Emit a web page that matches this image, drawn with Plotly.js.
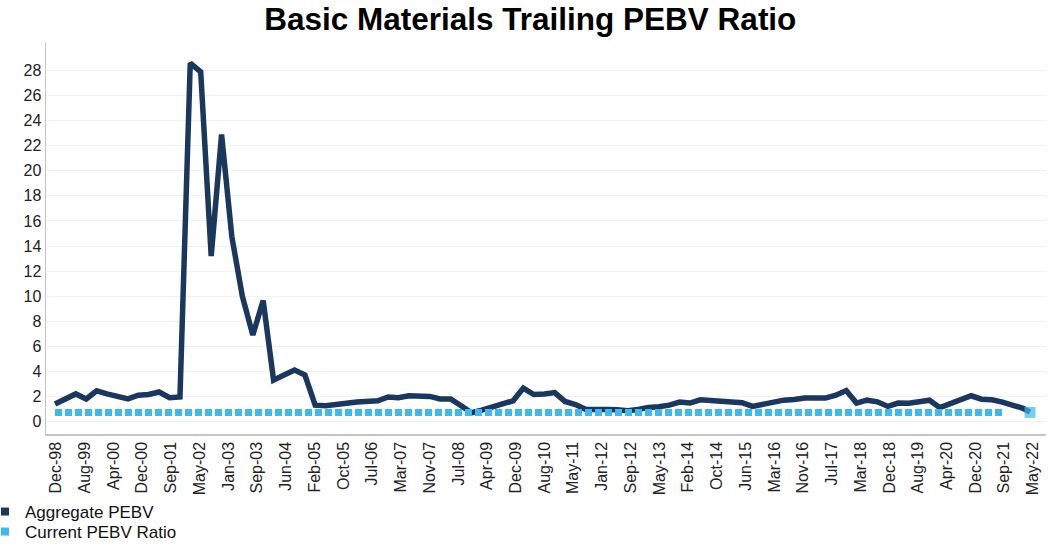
<!DOCTYPE html>
<html><head><meta charset="utf-8">
<script src="https://cdn.plot.ly/plotly-3.0.1.min.js"></script>
<style>html,body{margin:0;padding:0;background:#fff}#chart{width:1048px;height:544px}</style>
</head><body><div id="chart"></div>
<script>
const dates = [
"1998-12",
"1999-03","1999-06","1999-09","1999-12",
"2000-03","2000-06","2000-09","2000-12",
"2001-03","2001-06","2001-09","2001-12",
"2002-03","2002-06","2002-09","2002-12",
"2003-03","2003-06","2003-09","2003-12",
"2004-03","2004-06","2004-09","2004-12",
"2005-03","2005-06","2005-09","2005-12",
"2006-03","2006-06","2006-09","2006-12",
"2007-03","2007-06","2007-09","2007-12",
"2008-03","2008-06","2008-09","2008-12",
"2009-03","2009-06","2009-09","2009-12",
"2010-03","2010-06","2010-09","2010-12",
"2011-03","2011-06","2011-09","2011-12",
"2012-03","2012-06","2012-09","2012-12",
"2013-03","2013-06","2013-09","2013-12",
"2014-03","2014-06","2014-09","2014-12",
"2015-03","2015-06","2015-09","2015-12",
"2016-03","2016-06","2016-09","2016-12",
"2017-03","2017-06","2017-09","2017-12",
"2018-03","2018-06","2018-09","2018-12",
"2019-03","2019-06","2019-09","2019-12",
"2020-03","2020-06","2020-09","2020-12",
"2021-03","2021-06","2021-09","2021-12",
"2022-03","2022-05"
];

const aggregatePEBV = [
1.4,
1.8, 2.2, 1.8, 2.45,
2.2, 2.0, 1.8, 2.1,
2.15, 2.35, 1.9, 1.95,
28.6, 27.9, 13.2, 22.9,
14.75, 10.0, 6.9, 9.65,
3.3, 3.7, 4.1, 3.7,
1.3, 1.25, 1.3, 1.45,
1.55, 1.6, 1.65, 1.95,
1.9, 2.05, 2.07, 2.0,
1.8, 1.8, 1.25, 0.7,
0.9, 1.15, 1.4, 1.65,
2.66, 2.15, 2.2, 2.3,
1.6, 1.35, 0.95, 1.0,
0.95, 0.93, 0.85, 0.95,
1.12, 1.18, 1.3, 1.55,
1.47, 1.73, 1.65, 1.57,
1.5, 1.5, 1.2, 1.4,
1.55, 1.7, 1.75, 1.87,
1.87, 1.87, 2.1, 2.47,
1.47, 1.7, 1.57, 1.2,
1.47, 1.45, 1.57, 1.7,
1.1, 1.4, 1.8, 2.05,
1.78, 1.73, 1.55, 1.3,
1.05, 0.75
];

const currentPEBV = [
0.72,
0.72, 0.72, 0.72, 0.72,
0.72, 0.72, 0.72, 0.72,
0.72, 0.72, 0.72, 0.72,
0.72, 0.72, 0.72, 0.72,
0.72, 0.72, 0.72, 0.72,
0.72, 0.72, 0.72, 0.72,
0.72, 0.72, 0.72, 0.72,
0.72, 0.72, 0.72, 0.72,
0.72, 0.72, 0.72, 0.72,
0.72, 0.72, 0.72, 0.72,
0.72, 0.72, 0.72, 0.72,
0.72, 0.72, 0.72, 0.72,
0.72, 0.72, 0.72, 0.72,
0.72, 0.72, 0.72, 0.72,
0.72, 0.72, 0.72, 0.72,
0.72, 0.72, 0.72, 0.72,
0.72, 0.72, 0.72, 0.72,
0.72, 0.72, 0.72, 0.72,
0.72, 0.72, 0.72, 0.72,
0.72, 0.72, 0.72, 0.72,
0.72, 0.72, 0.72, 0.72,
0.72, 0.72, 0.72, 0.72,
0.72, 0.72, 0.72, null,
null, 0.72
];

const tickLabels = [
"Dec-98","Aug-99","Apr-00","Dec-00","Sep-01","May-02","Jan-03","Sep-03","Jun-04",
"Feb-05","Oct-05","Jul-06","Mar-07","Nov-07","Jul-08","Apr-09","Dec-09","Aug-10",
"May-11","Jan-12","Sep-12","May-13","Feb-14","Oct-14","Jun-15","Mar-16","Nov-16",
"Jul-17","Mar-18","Dec-18","Aug-19","Apr-20","Dec-20","Sep-21","May-22"
];

const yTicks = [0, 2, 4, 6, 8, 10, 12, 14, 16, 18, 20, 22, 24, 26, 28];

const seriesNames = ["Aggregate PEBV", "Current PEBV Ratio"];
const NAVY = "#1c375e";
const LIGHT = "#41b8ea";
const FONT = "Liberation Sans, Arial, sans-serif";

// evenly spaced label positions (Excel-style date axis major unit)
const tStart = Date.UTC(1998, 11, 10);
const tEnd = Date.UTC(2022, 4, 27);
const tickVals = tickLabels.map((_, k) => tStart + k * (tEnd - tStart) / (tickLabels.length - 1));

const markerSizes = currentPEBV.map((v, i) => (i === currentPEBV.length - 1 ? 11 : 0));

const traces = [
  {
    x: dates, y: aggregatePEBV, type: "scatter", mode: "lines",
    line: {color: NAVY, width: 5.5}, showlegend: false, hoverinfo: "skip"
  },
  {
    x: dates, y: currentPEBV, type: "scatter", mode: "lines+markers",
    line: {color: LIGHT, width: 7, dash: "7px,3px"},
    marker: {color: LIGHT, symbol: "square", size: markerSizes, line: {width: 0}},
    connectgaps: false, showlegend: false, hoverinfo: "skip"
  },
  {
    x: [null], y: [null], type: "scatter", mode: "markers", name: seriesNames[0],
    marker: {color: NAVY, symbol: "square", size: 8}, legend: "legend"
  },
  {
    x: [null], y: [null], type: "scatter", mode: "markers", name: seriesNames[1],
    marker: {color: LIGHT, symbol: "square", size: 8}, legend: "legend2"
  }
];

const legendCommon = {
  xref: "container", yref: "container", x: 0, xanchor: "left", yanchor: "middle",
  orientation: "h", indentation: -15,
  font: {family: FONT, size: 17, color: "#111"}, bgcolor: "rgba(0,0,0,0)", borderwidth: 0
};

const layout = {
  width: 1048, height: 544,
  margin: {l: 46, r: 2, t: 43, b: 110},
  paper_bgcolor: "#fff", plot_bgcolor: "#fff",
  title: {
    text: "Basic Materials Trailing PEBV Ratio",
    font: {family: FONT, size: 31.5, color: "#000", weight: 700},
    x: 0.506, xanchor: "center", xref: "container", y: 0.965, yanchor: "middle", yref: "container"
  },
  xaxis: {
    type: "date",
    range: ["1998-09-13", "2022-09-18"],
    tickmode: "array", tickvals: tickVals, ticktext: tickLabels,
    tickangle: -90, ticks: "", showgrid: false, zeroline: false,
    showline: true, linecolor: "#c4c4c4", linewidth: 1.5,
    tickfont: {family: FONT, size: 16, color: "#222"},
    automargin: false, fixedrange: true
  },
  yaxis: {
    range: [-1, 30.2],
    tickmode: "array", tickvals: yTicks, ticktext: yTicks.map(String),
    ticks: "", showgrid: true, gridcolor: "#f1f1f1", gridwidth: 1, zeroline: false,
    showline: true, linecolor: "#c4c4c4", linewidth: 1.5,
    tickfont: {family: FONT, size: 16, color: "#222"},
    automargin: false, fixedrange: true
  },
  legend: Object.assign({}, legendCommon, {y: 1 - 512 / 544}),
  legend2: Object.assign({}, legendCommon, {y: 1 - 532 / 544}),
  hovermode: false
};

Plotly.newPlot("chart", traces, layout, {displayModeBar: false, staticPlot: true});
</script>
</body></html>
